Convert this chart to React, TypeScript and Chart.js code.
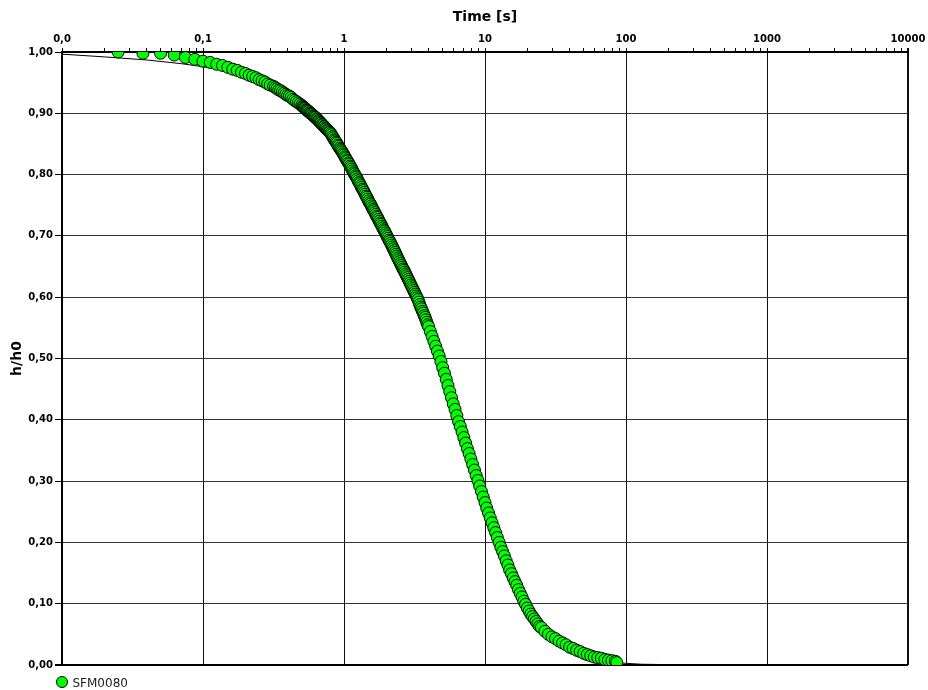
import React, { useEffect, useRef } from 'react';
import { Chart, registerables } from 'chart.js';

Chart.register(...registerables);

const seriesLabel = 'SFM0080';
const xTitle = 'Time [s]';
const yTitle = 'h/h0';

// measured samples (time in s, relative height h/h0), by section of the curve
const timeEarly = [
  0.025, 0.0375, 0.05, 0.0625, 0.075, 0.0875, 0.1, 0.1125, 0.125, 0.1375,
  0.15, 0.1625, 0.175, 0.1875, 0.2, 0.2125, 0.225, 0.2375, 0.25, 0.2625,
  0.275, 0.2875, 0.3, 0.3162, 0.3255, 0.335, 0.3447, 0.3548, 0.3652, 0.3758,
  0.3868, 0.3981, 0.4097, 0.4217, 0.434, 0.4467, 0.4597, 0.4732, 0.487,
];
const hEarly = [
  1.0, 0.998, 0.998, 0.995, 0.991, 0.988, 0.985, 0.983, 0.98, 0.978,
  0.975, 0.972, 0.97, 0.967, 0.965, 0.962, 0.96, 0.958, 0.955, 0.953,
  0.951, 0.948, 0.946, 0.944, 0.942, 0.94, 0.938, 0.937, 0.935, 0.933,
  0.931, 0.929, 0.928, 0.926, 0.923, 0.921, 0.919, 0.917, 0.915,
];
const timeSub1 = [
  0.5012, 0.5085, 0.5158, 0.5233, 0.5309, 0.5386, 0.5464, 0.5543, 0.5623, 0.5705,
  0.5788, 0.5872, 0.5957, 0.6043, 0.6131, 0.622, 0.631, 0.6402, 0.6494, 0.6588,
  0.6683, 0.678, 0.6879, 0.6979, 0.7079, 0.7182, 0.7286, 0.7392, 0.7499, 0.7608,
  0.7718, 0.783, 0.7943, 0.8058, 0.8175, 0.8294, 0.8414, 0.8536, 0.866, 0.8785,
  0.8913, 0.9042, 0.9173, 0.9306, 0.9441, 0.9578, 0.9716, 0.9857,
];
const hSub1 = [
  0.913, 0.911, 0.91, 0.909, 0.908, 0.906, 0.905, 0.904, 0.903, 0.901,
  0.9, 0.899, 0.898, 0.896, 0.895, 0.894, 0.893, 0.891, 0.89, 0.888,
  0.887, 0.885, 0.884, 0.882, 0.881, 0.879, 0.878, 0.876, 0.875, 0.873,
  0.872, 0.87, 0.869, 0.867, 0.865, 0.862, 0.86, 0.857, 0.855, 0.853,
  0.851, 0.848, 0.846, 0.843, 0.841, 0.839, 0.837, 0.834,
];
const timeFast1 = [
  1.0, 1.0145, 1.029, 1.044, 1.059, 1.0745, 1.09, 1.106, 1.122, 1.138,
  1.155, 1.172, 1.189, 1.206, 1.223, 1.241, 1.259, 1.2775, 1.296, 1.315,
  1.334, 1.353, 1.372, 1.3925, 1.413, 1.4335, 1.454, 1.475, 1.496, 1.518,
  1.54, 1.5625, 1.585, 1.608, 1.631, 1.655, 1.679, 1.7035, 1.728, 1.753,
  1.778, 1.804, 1.83, 1.857, 1.884, 1.9115, 1.939, 1.967, 1.995, 2.0245,
  2.054, 2.0835, 2.113, 2.144, 2.175, 2.207, 2.239, 2.2715, 2.304, 2.3375,
  2.371, 2.406, 2.441, 2.4765, 2.512, 2.5485, 2.585, 2.623, 2.661, 2.6995,
  2.738, 2.778, 2.818, 2.8595, 2.901, 2.943, 2.985, 3.029, 3.073, 3.1175,
  3.162, 3.2085, 3.255, 3.3025, 3.35, 3.3985, 3.447, 3.4975, 3.548, 3.6,
  3.652, 3.705, 3.758, 3.813, 3.868, 3.9245, 3.981,
];
const hFast1 = [
  0.832, 0.829, 0.827, 0.824, 0.822, 0.819, 0.817, 0.814, 0.812, 0.809,
  0.806, 0.803, 0.801, 0.798, 0.796, 0.793, 0.79, 0.787, 0.785, 0.782,
  0.779, 0.776, 0.774, 0.771, 0.768, 0.765, 0.763, 0.76, 0.757, 0.754,
  0.752, 0.749, 0.746, 0.743, 0.741, 0.738, 0.735, 0.732, 0.73, 0.727,
  0.724, 0.721, 0.719, 0.716, 0.713, 0.71, 0.708, 0.705, 0.702, 0.699,
  0.696, 0.693, 0.691, 0.688, 0.685, 0.682, 0.679, 0.676, 0.673, 0.67,
  0.667, 0.664, 0.661, 0.658, 0.655, 0.652, 0.649, 0.646, 0.644, 0.641,
  0.638, 0.635, 0.632, 0.629, 0.626, 0.623, 0.62, 0.617, 0.614, 0.611,
  0.608, 0.605, 0.602, 0.599, 0.596, 0.592, 0.588, 0.584, 0.581, 0.577,
  0.574, 0.57, 0.567, 0.563, 0.559, 0.555, 0.552,
];
const timeFast2 = [
  4.097, 4.217, 4.34, 4.467, 4.597, 4.732, 4.87, 5.012, 5.158, 5.309,
  5.464, 5.623, 5.788, 5.957, 6.131, 6.31, 6.494, 6.683, 6.879, 7.079,
  7.286, 7.499, 7.718, 7.943, 8.175, 8.414, 8.66, 8.913, 9.173, 9.441,
  9.716,
];
const hFast2 = [
  0.544, 0.536, 0.528, 0.52, 0.512, 0.504, 0.495, 0.485, 0.476, 0.466,
  0.456, 0.446, 0.436, 0.426, 0.417, 0.407, 0.397, 0.389, 0.38, 0.371,
  0.362, 0.353, 0.345, 0.336, 0.327, 0.318, 0.309, 0.301, 0.292, 0.283,
  0.274,
];
const timeLate = [
  10.0, 10.29, 10.59, 10.9, 11.22, 11.55, 11.89, 12.23, 12.59, 12.96,
  13.34, 13.72, 14.13, 14.54, 14.96, 15.4, 15.85, 16.31, 16.79, 17.28,
  17.78, 18.3, 18.84, 19.39, 19.95, 20.54, 21.13, 21.75, 22.39, 23.04,
  23.71, 24.41, 25.12,
  26.61, 28.18, 29.85, 31.62, 33.5, 35.48, 37.58, 39.81, 42.17, 44.67,
  47.32, 50.12, 53.09, 56.23, 59.57, 63.1, 66.83, 70.79, 74.99, 79.43,
  84.14, 86.0,
];
const hLate = [
  0.265, 0.256, 0.248, 0.24, 0.232, 0.224, 0.216, 0.208, 0.2, 0.192,
  0.185, 0.178, 0.17, 0.163, 0.155, 0.149, 0.142, 0.136, 0.13, 0.123,
  0.117, 0.111, 0.104, 0.099, 0.093, 0.088, 0.083, 0.079, 0.075, 0.071,
  0.067, 0.063, 0.061,
  0.055, 0.05, 0.046, 0.043, 0.039, 0.036, 0.033, 0.029, 0.027, 0.024,
  0.022, 0.019, 0.017, 0.015, 0.013, 0.012, 0.011, 0.009, 0.008, 0.007,
  0.006, 0.004,
];

// fitted curve
const fitTime = [0.01, 0.02, 0.04, 0.07, 0.1, 0.15, 0.2, 0.3, 0.5, 0.7, 1, 1.5, 2, 3, 4, 5, 6, 7, 8, 10, 12, 15, 20, 25, 30, 40, 50, 70, 86, 100, 130, 200, 320];
const fitH = [0.9965, 0.992, 0.987, 0.981, 0.976, 0.97, 0.962, 0.945, 0.912, 0.882, 0.832, 0.757, 0.702, 0.619, 0.55, 0.486, 0.424, 0.374, 0.334, 0.265, 0.213, 0.155, 0.093, 0.061, 0.046, 0.029, 0.0195, 0.0093, 0.004, 0.0027, 0.0012, 0.0006, 0.0003];

const xDecades = [0.01, 0.1, 1, 10, 100, 1000, 10000];
const xDecadeLabels = ['0,0', '0,1', '1', '10', '100', '1000', '10000'];
const yTickValues = [0, 0.1, 0.2, 0.3, 0.4, 0.5, 0.6, 0.7, 0.8, 0.9, 1.0];
const yTickLabels = ['0,00', '0,10', '0,20', '0,30', '0,40', '0,50', '0,60', '0,70', '0,80', '0,90', '1,00'];

const pointFill = '#00ff00';
const FONT = 'DejaVu Sans';

const timeS = [...timeEarly, ...timeSub1, ...timeFast1, ...timeFast2, ...timeLate];
const hRatio = [...hEarly, ...hSub1, ...hFast1, ...hFast2, ...hLate];

const xAllTicks: number[] = [];
for (let i = 0; i < xDecades.length - 1; i++) {
  for (let m = 1; m <= 9; m++) xAllTicks.push(Number((m * xDecades[i]).toPrecision(3)));
}
xAllTicks.push(xDecades[xDecades.length - 1]);

const decadeIndex = (v: number) => xDecades.findIndex((d) => Math.abs(v / d - 1) < 1e-6);

const legendPlugin = {
  id: 'customLegend',
  afterDraw(chart: any) {
    const ctx = chart.ctx;
    const x = chart.chartArea.left;
    const y = chart.chartArea.bottom + 17;
    ctx.save();
    ctx.beginPath();
    ctx.arc(x, y, 5.5, 0, Math.PI * 2);
    ctx.fillStyle = pointFill;
    ctx.fill();
    ctx.lineWidth = 1;
    ctx.strokeStyle = '#000';
    ctx.stroke();
    ctx.font = `12px "${FONT}"`;
    ctx.fillStyle = '#222';
    ctx.textBaseline = 'middle';
    ctx.textAlign = 'left';
    ctx.fillText(chart.data.datasets[0].label, x + 10.5, y + 1.5);
    ctx.restore();
  },
};

export default function App() {
  const ref = useRef<HTMLCanvasElement | null>(null);
  useEffect(() => {
    if (!ref.current) return;
    const n = Math.min(timeS.length, hRatio.length);
    const points = timeS.slice(0, n).map((t, i) => ({ x: t, y: hRatio[i] }));
    const fit = fitTime.map((t, i) => ({ x: t, y: fitH[i] }));
    const chart = new Chart(ref.current, {
      type: 'scatter',
      data: {
        datasets: [
          {
            label: seriesLabel,
            data: points,
            showLine: false,
            pointRadius: 6,
            pointBackgroundColor: pointFill,
            pointBorderColor: '#000',
            pointBorderWidth: 1,
            clip: 0,
          } as any,
          {
            label: 'fit',
            data: fit,
            showLine: true,
            borderColor: '#000',
            borderWidth: 1,
            pointRadius: 0,
            fill: false,
          } as any,
        ],
      },
      options: {
        animation: false,
        responsive: false,
        maintainAspectRatio: false,
        events: [],
        layout: { padding: { left: 0, right: 20, top: 0, bottom: 25 } },
        plugins: { legend: { display: false }, tooltip: { enabled: false }, title: { display: false } },
        scales: {
          x: {
            type: 'logarithmic',
            position: 'top',
            min: 0.01,
            max: 10000,
            afterBuildTicks: (scale: any) => {
              scale.ticks = xAllTicks.map((v) => ({ value: v }));
            },
            afterFit: (scale: any) => {
              scale.height = 52;
              scale.paddingLeft = 0;
              scale.paddingRight = 0;
            },
            ticks: {
              autoSkip: false,
              maxRotation: 0,
              minRotation: 0,
              padding: 3,
              color: '#000',
              font: { family: FONT, size: 10, weight: 'bold' },
              callback: (value: any) => {
                const i = decadeIndex(Number(value));
                return i >= 0 ? xDecadeLabels[i] : '';
              },
            },
            grid: {
              color: (ctx: any) => (ctx.tick && decadeIndex(ctx.tick.value) >= 0 ? '#111' : 'rgba(0,0,0,0)'),
              lineWidth: (ctx: any) => (ctx.tick && ctx.tick.value === 10000 ? 2 : 1),
              tickColor: '#000',
              tickLength: 4,
            },
            border: { display: true, color: '#000', width: 2 },
            title: {
              display: true,
              text: xTitle,
              color: '#000',
              font: { family: FONT, size: 14, weight: 'bold' },
              padding: { top: 9, bottom: 0 },
            },
          },
          y: {
            type: 'linear',
            min: 0,
            max: 1,
            afterBuildTicks: (scale: any) => {
              scale.ticks = yTickValues.map((v) => ({ value: v }));
            },
            afterFit: (scale: any) => {
              scale.width = 62;
              scale.paddingTop = 0;
              scale.paddingBottom = 0;
            },
            ticks: {
              autoSkip: false,
              padding: 2,
              color: '#000',
              font: { family: FONT, size: 10, weight: 'bold' },
              callback: (_v: any, index: number) => yTickLabels[index],
            },
            grid: {
              color: (ctx: any) => (ctx.tick && ctx.tick.value === 0 ? '#000' : '#333'),
              lineWidth: (ctx: any) => (ctx.tick && ctx.tick.value === 0 ? 2 : 1),
              tickColor: '#000',
              tickLength: 7,
            },
            border: { display: true, color: '#000', width: 2 },
            title: {
              display: true,
              text: yTitle,
              color: '#000',
              font: { family: FONT, size: 14, weight: 'bold' },
              padding: { top: 9, bottom: 0 },
            },
          },
        },
      } as any,
      plugins: [legendPlugin],
    });
    return () => chart.destroy();
  }, []);

  return (
    <div style={{ position: 'absolute', left: 0, top: 0, width: 928, height: 690, background: '#fff' }}>
      <canvas ref={ref} width={928} height={690} style={{ display: 'block' }} />
    </div>
  );
}
